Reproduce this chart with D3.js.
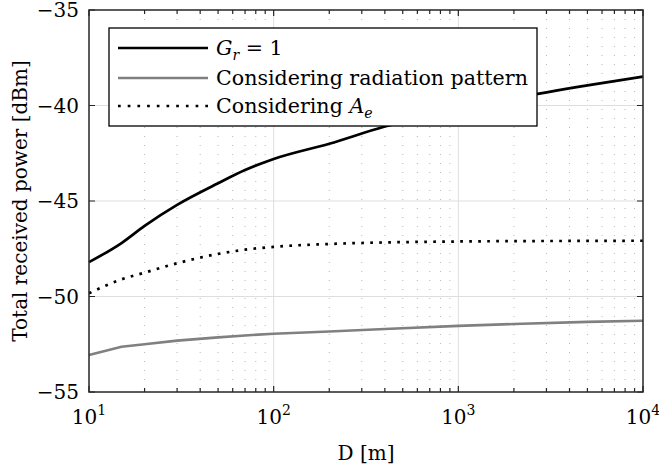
<!DOCTYPE html>
<html>
<head>
<meta charset="utf-8">
<script src="https://cdn.jsdelivr.net/npm/d3@7"></script>
<style>
  body { margin: 0; background: #fff; }
  svg text { font-family: "DejaVu Serif", serif; fill: #000; }
</style>
</head>
<body>
<div id="chart"></div>
<script>
// distances [m]
const distances = [10, 15, 20, 30, 50, 70, 100, 200, 400, 1000, 2000, 5000, 10000];
// total received power [dBm]
const powerGr1 = [-48.2, -47.2, -46.3, -45.2, -44.07, -43.38, -42.8, -42.0, -41.1, -40.2, -39.62, -38.95, -38.49];
const powerPattern = [-53.06, -52.63, -52.5, -52.31, -52.14, -52.04, -51.95, -51.83, -51.7, -51.54, -51.44, -51.33, -51.27];
const powerAe = [-49.83, -49.1, -48.75, -48.26, -47.77, -47.55, -47.4, -47.25, -47.17, -47.12, -47.1, -47.09, -47.08];

const yTicks = [-55, -50, -45, -40, -35];
const xMajor = [10, 100, 1000, 10000];
const xExp = ["1", "2", "3", "4"];

const W = 659, H = 467;
const margin = { top: 10, right: 16, bottom: 75, left: 89 };
const width = W - margin.left - margin.right;
const height = H - margin.top - margin.bottom;

const x = d3.scaleLog().domain([10, 10000]).range([0, width]);
const y = d3.scaleLinear().domain([-55, -35]).range([height, 0]);

const svg = d3.select("#chart").append("svg")
  .attr("width", W).attr("height", H);

const g = svg.append("g")
  .attr("transform", "translate(" + margin.left + "," + margin.top + ")");

const axisColor = "#262626";
const allX = x.ticks();
const minorX = allX.filter(d => !xMajor.includes(d));

// minor grid (vertical, dotted)
g.append("g").selectAll("line")
  .data(minorX)
  .join("line")
  .attr("x1", d => x(d)).attr("x2", d => x(d))
  .attr("y1", 0).attr("y2", height)
  .attr("stroke", "#b8b8b8")
  .attr("stroke-width", 1)
  .attr("stroke-dasharray", "1,8");

// major grid
g.append("g").selectAll("line")
  .data(xMajor.slice(1, -1))
  .join("line")
  .attr("x1", d => x(d)).attr("x2", d => x(d))
  .attr("y1", 0).attr("y2", height)
  .attr("stroke", "#dedede");

g.append("g").selectAll("line")
  .data(yTicks.slice(1, -1))
  .join("line")
  .attr("x1", 0).attr("x2", width)
  .attr("y1", d => y(d)).attr("y2", d => y(d))
  .attr("stroke", "#dedede");

// data lines
const rows = distances.map((d, i) => ({ d, a: powerGr1[i], b: powerPattern[i], c: powerAe[i] }));
const lineOf = (key, curve) => d3.line().curve(curve).x(r => x(r.d)).y(r => y(r[key]));

g.append("path").datum(rows)
  .attr("fill", "none").attr("stroke", "#808080").attr("stroke-width", 2.6)
  .attr("d", lineOf("b", d3.curveLinear));

g.append("path").datum(rows)
  .attr("fill", "none").attr("stroke", "#000").attr("stroke-width", 2.7)
  .attr("stroke-dasharray", "2.7,6.3")
  .attr("d", lineOf("c", d3.curveMonotoneX));

g.append("path").datum(rows)
  .attr("fill", "none").attr("stroke", "#000").attr("stroke-width", 2.7)
  .attr("d", lineOf("a", d3.curveMonotoneX));

// ticks (inward, bottom + top)
const tickG = g.append("g").attr("stroke", axisColor).attr("stroke-width", 1.2);
tickG.selectAll(".xt")
  .data(allX)
  .join("path")
  .attr("d", d => {
    const len = xMajor.includes(d) ? 6 : 4;
    return "M" + x(d) + "," + height + "v" + (-len) + "M" + x(d) + ",0v" + len;
  });
tickG.selectAll(".yt")
  .data(yTicks)
  .join("path")
  .attr("d", d => "M0," + y(d) + "h6M" + width + "," + y(d) + "h-6");

// box
g.append("rect")
  .attr("width", width).attr("height", height)
  .attr("fill", "none").attr("stroke", axisColor).attr("stroke-width", 1.5);

// y tick labels
g.append("g").selectAll("text")
  .data(yTicks)
  .join("text")
  .attr("x", -10).attr("y", d => y(d))
  .attr("dy", "0.36em")
  .attr("text-anchor", "end")
  .style("font-size", "20px")
  .text(d => d < 0 ? "\u2212" + Math.abs(d) : d);

// x tick labels
const xl = g.append("g").selectAll("text")
  .data(xMajor)
  .join("text")
  .attr("x", d => x(d)).attr("y", height + 32)
  .attr("text-anchor", "middle")
  .style("font-size", "20px");
xl.append("tspan").text("10");
xl.append("tspan").attr("dy", -9).style("font-size", "14px").text((d, i) => xExp[i]);

// axis labels
svg.append("text")
  .attr("x", margin.left + width / 2).attr("y", 460)
  .attr("text-anchor", "middle")
  .style("font-size", "20px")
  .text("D [m]");

svg.append("text")
  .attr("transform", "translate(27," + (margin.top + height / 2) + ") rotate(-90)")
  .attr("text-anchor", "middle")
  .style("font-size", "20px")
  .text("Total received power [dBm]");

// legend
const leg = svg.append("g").attr("transform", "translate(109,28)");
leg.append("rect")
  .attr("width", 428).attr("height", 98)
  .attr("fill", "#fff").attr("stroke", "#000").attr("stroke-width", 1.3);

const legItems = [
  { stroke: "#000", dash: null },
  { stroke: "#808080", dash: null },
  { stroke: "#000", dash: "2.7,7" }
];
const legY = [20, 50, 78];
legItems.forEach((it, i) => {
  leg.append("line")
    .attr("x1", 9).attr("x2", 99)
    .attr("y1", legY[i]).attr("y2", legY[i])
    .attr("stroke", it.stroke).attr("stroke-width", 2.7)
    .attr("stroke-dasharray", it.dash);
});

const t1 = leg.append("text").attr("x", 107).attr("y", legY[0] + 7).style("font-size", "20.6px");
t1.append("tspan").style("font-style", "italic").text("G");
t1.append("tspan").style("font-style", "italic").style("font-size", "14px").attr("dy", 5).text("r");
t1.append("tspan").attr("dy", -5).text(" = 1");

leg.append("text").attr("x", 107).attr("y", legY[1] + 7).style("font-size", "20.6px")
  .text("Considering radiation pattern");

const t3 = leg.append("text").attr("x", 107).attr("y", legY[2] + 7).style("font-size", "20.6px");
t3.append("tspan").text("Considering ");
t3.append("tspan").style("font-style", "italic").text("A");
t3.append("tspan").style("font-style", "italic").style("font-size", "14px").attr("dy", 5).text("e");
</script>
</body>
</html>
